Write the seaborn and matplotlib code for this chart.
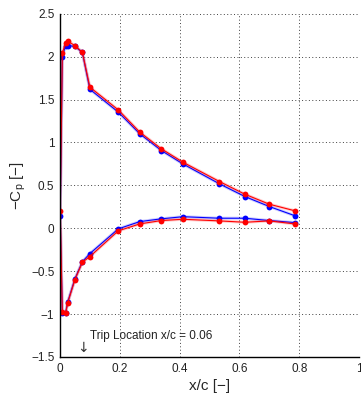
import matplotlib
matplotlib.use("Agg")
import matplotlib.pyplot as plt
import seaborn as sns
import pandas as pd

sns.set_style("white")
plt.rcParams['font.family'] = ['Liberation Sans', 'DejaVu Sans']

# chordwise stations
x_surface = [0.008, 0.019, 0.026, 0.05, 0.075, 0.10, 0.195, 0.267, 0.339, 0.411, 0.533, 0.618, 0.70, 0.786]
x_le = 0.001

blue_upper = [2.00, 2.13, 2.13, 2.12, 2.05, 1.62, 1.354, 1.10, 0.906, 0.75, 0.518, 0.37, 0.253, 0.145]
blue_le = 0.144
blue_lower = [-0.99, -0.985, -0.86, -0.59, -0.39, -0.295, -0.007, 0.078, 0.11, 0.135, 0.117, 0.117, 0.09, 0.066]

red_upper = [2.04, 2.165, 2.18, 2.13, 2.05, 1.645, 1.38, 1.12, 0.926, 0.77, 0.545, 0.397, 0.28, 0.203]
red_le = 0.206
red_lower = [-0.98, -0.99, -0.87, -0.60, -0.396, -0.33, -0.03, 0.051, 0.09, 0.105, 0.086, 0.07, 0.086, 0.05]

x_ticks = [0, 0.2, 0.4, 0.6, 0.8, 1]
x_ticklabels = ["0", "0.2", "0.4", "0.6", "0.8", "1"]
y_ticks = [-1.5, -1, -0.5, 0, 0.5, 1, 1.5, 2, 2.5]
y_ticklabels = ["\u22121.5", "\u22121", "\u22120.5", "0", "0.5", "1", "1.5", "2", "2.5"]

trip_x = 0.06
trip_label = "Trip Location x/c = 0.06"


def build(upper, le, lower, name):
    xs = list(reversed(x_surface)) + [x_le] + list(x_surface)
    ys = list(reversed(upper)) + [le] + list(lower)
    return pd.DataFrame({"x": xs, "cp": ys, "series": name})


df_blue = build(blue_upper, blue_le, blue_lower, "blue")
df_red = build(red_upper, red_le, red_lower, "red")

fig = plt.figure(figsize=(3.61, 3.94), dpi=100)
ax = fig.add_axes([0.166, 0.094, 0.829, 0.871])

for d, c in [(df_blue, "#0000ff"), (df_red, "#ff0000")]:
    sns.lineplot(data=d, x="x", y="cp", sort=False, estimator=None, ax=ax,
                 color=c, lw=2.2, alpha=0.2, legend=False)
    sns.lineplot(data=d, x="x", y="cp", sort=False, estimator=None, ax=ax,
                 color=c, lw=0.8, marker="o", markersize=4.2,
                 markeredgewidth=0, legend=False)

ax.set_xlim(0, 1)
ax.set_ylim(-1.5, 2.5)
ax.set_xticks(x_ticks)
ax.set_xticklabels(x_ticklabels)
ax.set_yticks(y_ticks)
ax.set_yticklabels(y_ticklabels)
ax.tick_params(direction="in", length=0, labelsize=8.5, colors="#222222", pad=4)

ax.grid(True, linestyle=(0, (1, 2.5)), color="black", lw=0.7, alpha=0.75)
for s in ["top", "right"]:
    ax.spines[s].set_visible(False)
for s in ["left", "bottom"]:
    ax.spines[s].set_color("black")
    ax.spines[s].set_linewidth(1.0)

ax.set_xlabel("x/c [\u2212]", fontsize=11, labelpad=3)
ax.set_ylabel("\u2212C$_{\\mathregular{p}}$ [\u2212]", fontsize=11, labelpad=2)

ax.text(0.1, -1.255, trip_label, fontsize=8.5, va="center", ha="left", color="#222222")
ax.text(trip_x + 0.016, -1.40, "\u2193", fontsize=10, va="center", ha="center",
        color="#333333", family=['DejaVu Sans'])

fig.savefig("out.png", dpi=100)
